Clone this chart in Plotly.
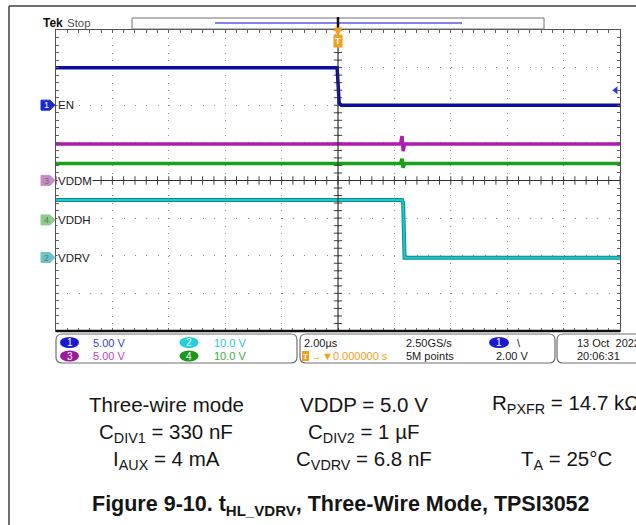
import numpy as np
import plotly.graph_objects as go

# ---------------- data ----------------
# time in microseconds (2.00 us/div, trigger at 0), values in volts
t_en = [-10.0, -0.03, 0.04, 0.12, 10.0]
v_en = [5.0, 5.0, 0.3, 0.0, 0.0]

t_vddm = [-10.0, 2.22, 2.27, 2.31, 2.36, 10.0]
v_vddm = [4.85, 4.85, 5.9, 3.9, 4.85, 4.85]

t_vddh = [-10.0, 2.22, 2.27, 2.31, 2.36, 10.0]
v_vddh = [15.0, 15.0, 16.3, 13.9, 15.0, 15.0]

t_vdrv = [-10.0, 2.27, 2.31, 2.36, 10.0]
v_vdrv = [15.3, 15.3, 14.6, 0.0, 0.0]

ch_names = ["EN", "VDRV", "VDDM", "VDDH"]
ch_nums = ["1", "2", "3", "4"]
ch_volts_per_div = [5.0, 10.0, 5.0, 10.0]
ch_ground_div = [2.0, -2.05, 0.0, -1.05]
ch_colors = ["#0c0ca0", "#1ec8c8", "#b01cb0", "#18a018"]
ch_marker_fill = ["#1a2ad0", "#6cc4c8", "#c48cc8", "#8ccc8c"]
ch_scale_labels = ["5.00 V", "10.0 V", "5.00 V", "10.0 V"]
ch_scale_colors = ["#3c3cdc", "#22c8d8", "#c040c8", "#38b038"]
ch_badge_colors = ["#1a1ad0", "#22d0d8", "#9a1a9a", "#1a9a1a"]

trigger_level_v = 2.00
time_per_div = "2.00µs"
sample_rate = "2.50GS/s"
record_len = "5M points"
trig_pos = "0.000000 s"
date_txt = "13 Oct  2022"
time_txt = "20:06:31"

caption_rows = [
    ["Three-wire mode", "VDDP = 5.0 V", "R<sub>PXFR</sub> = 14.7 kΩ"],
    ["C<sub>DIV1</sub> = 330 nF", "C<sub>DIV2</sub> = 1 µF", ""],
    ["I<sub>AUX</sub> = 4 mA", "C<sub>VDRV</sub> = 6.8 nF", "T<sub>A</sub> = 25°C"],
]
fig_caption = "Figure 9-10. t<sub>HL_VDRV</sub>, Three-Wire Mode, TPSI3052"

# ---------------- layout geometry ----------------
W, H = 636, 525
L, R, T, B = 56, 620, 30, 331
PW, PH = R - L, B - T


def X(px):
    return (px - L) / PW


def Y(py):
    return (B - py) / PH


def to_div(vals, ch):
    return [ch_ground_div[ch] + v / ch_volts_per_div[ch] for v in vals]


fig = go.Figure()

# graticule centre-cross ticks
gx = np.arange(-10, 10.001, 0.4)
gy = np.arange(-4, 4.001, 0.2)
fig.add_trace(go.Scatter(x=gx, y=np.zeros_like(gx), mode="markers",
                         marker=dict(symbol="line-ns", size=6,
                                     line=dict(width=1, color="#404040")),
                         hoverinfo="skip"))
fig.add_trace(go.Scatter(x=np.zeros_like(gy), y=gy, mode="markers",
                         marker=dict(symbol="line-ew", size=6,
                                     line=dict(width=1, color="#404040")),
                         hoverinfo="skip"))

# channel traces
fig.add_trace(go.Scatter(x=t_vddm, y=to_div(v_vddm, 2), mode="lines",
                         line=dict(color=ch_colors[2], width=3.5)))
fig.add_trace(go.Scatter(x=t_vddh, y=to_div(v_vddh, 3), mode="lines",
                         line=dict(color=ch_colors[3], width=3.5)))
fig.add_trace(go.Scatter(x=t_vdrv, y=to_div(v_vdrv, 1), mode="lines",
                         line=dict(color="#0a8c90", width=4)))
fig.add_trace(go.Scatter(x=t_vdrv, y=to_div(v_vdrv, 1), mode="lines",
                         line=dict(color=ch_colors[1], width=2)))
fig.add_trace(go.Scatter(x=t_en, y=to_div(v_en, 0), mode="lines",
                         line=dict(color=ch_colors[0], width=3.5)))

# trigger level arrow (ch1)
fig.add_trace(go.Scatter(x=[9.85], y=[ch_ground_div[0] + trigger_level_v / ch_volts_per_div[0]],
                         mode="markers",
                         marker=dict(symbol="triangle-left", size=7, color="#2a3ae0"),
                         hoverinfo="skip"))

shapes = []
annotations = []


def note(x, y, text, size, color, family="Liberation Sans", xanchor="center",
         xref="paper", yref="paper", **kw):
    annotations.append(dict(x=x, y=y, xref=xref, yref=yref, text=text, showarrow=False,
                            xanchor=xanchor, yanchor="middle",
                            font=dict(size=size, color=color, family=family), **kw))


# centre cross lines
shapes.append(dict(type="line", xref="x", yref="y", x0=0, x1=0, y0=-4, y1=4,
                   line=dict(color="#303030", width=1.2)))
shapes.append(dict(type="line", xref="x", yref="y", x0=-10, x1=10, y0=0, y1=0,
                   line=dict(color="#303030", width=1.2)))
# thick bottom border
shapes.append(dict(type="line", xref="paper", yref="paper", x0=0, x1=1, y0=0, y1=0,
                   line=dict(color="#101010", width=2.5)))

# outer frame of the figure
shapes.append(dict(type="line", xref="paper", yref="paper", x0=X(9), x1=X(9), y0=Y(6), y1=Y(530),
                   line=dict(color="#404040", width=1.5)))
shapes.append(dict(type="line", xref="paper", yref="paper", x0=X(9), x1=X(640), y0=Y(6), y1=Y(6),
                   line=dict(color="#404040", width=1.5)))

# record bar at top
shapes.append(dict(type="rect", xref="paper", yref="paper", x0=X(132), x1=X(544), y0=Y(29), y1=Y(18),
                   line=dict(color="#707070", width=1), fillcolor="white"))
shapes.append(dict(type="line", xref="paper", yref="paper", x0=X(215), x1=X(462), y0=Y(23), y1=Y(23),
                   line=dict(color="#5a5af0", width=1.5)))
shapes.append(dict(type="line", xref="paper", yref="paper", x0=X(338), x1=X(338), y0=Y(30), y1=Y(17),
                   line=dict(color="#101010", width=2.5)))
# trigger position marker
shapes.append(dict(type="path", xref="paper", yref="paper",
                   path=f"M {X(334)},{Y(28)} L {X(342)},{Y(28)} L {X(338)},{Y(35)} Z",
                   fillcolor="#f0a020", line=dict(color="#f0a020", width=1)))
note(X(338), Y(41), "<b>T</b>", 9, "white", bgcolor="#f0a020", borderpad=1)

# Tek Stop
note(X(41), Y(23), "<b>Tek</b>", 12, "#101010", xanchor="left")
note(X(65), Y(23), "Stop", 11.5, "#505050", xanchor="left")

# channel ground markers and labels
for i in range(4):
    g = ch_ground_div[i]
    py = 180.4 - g * PH / 8
    shapes.append(dict(type="path", xref="paper", yref="paper",
                       path=(f"M {X(41)},{Y(py-5)} L {X(50)},{Y(py-5)} L {X(55)},{Y(py)} "
                             f"L {X(50)},{Y(py+5)} L {X(41)},{Y(py+5)} Z"),
                       fillcolor=ch_marker_fill[i], line=dict(color=ch_marker_fill[i], width=1)))
    note(X(46), g, ch_nums[i], 9, "white" if i == 0 else "#707070", yref="y")
    note(X(57), g, ch_names[i], 11.5, "#202020", xanchor="left", yref="y",
         bgcolor="white", borderpad=0)


def rounded(x0, y0, x1, y1, r=6):
    return (f"M {X(x0+r)},{Y(y0)} L {X(x1-r)},{Y(y0)} Q {X(x1)},{Y(y0)} {X(x1)},{Y(y0+r)} "
            f"L {X(x1)},{Y(y1-r)} Q {X(x1)},{Y(y1)} {X(x1-r)},{Y(y1)} "
            f"L {X(x0+r)},{Y(y1)} Q {X(x0)},{Y(y1)} {X(x0)},{Y(y1-r)} "
            f"L {X(x0)},{Y(y0+r)} Q {X(x0)},{Y(y0)} {X(x0+r)},{Y(y0)} Z")


for (x0, x1) in [(56, 297), (300, 555), (557, 645)]:
    shapes.append(dict(type="path", xref="paper", yref="paper", path=rounded(x0, 334, x1, 363),
                       line=dict(color="#707070", width=1.2)))

row_y = [342.5, 356]
badge_pos = [(69.5, row_y[0]), (189, row_y[0]), (69.5, row_y[1]), (189, row_y[1])]
scale_x = [91, 212, 91, 212]
INFO = 11
for i in range(4):
    cx, cy = badge_pos[i]
    shapes.append(dict(type="circle", xref="paper", yref="paper",
                       x0=X(cx - 9.5), x1=X(cx + 9.5), y0=Y(cy + 5.5), y1=Y(cy - 5.5),
                       fillcolor=ch_badge_colors[i], line=dict(width=0)))
    note(X(cx), Y(cy), ch_nums[i], 10, "white")
    note(X(scale_x[i]), Y(cy), ch_scale_labels[i], INFO, ch_scale_colors[i], xanchor="left")

# timebase box
note(X(302), Y(row_y[0]), time_per_div, INFO, "#202020", xanchor="left")
shapes.append(dict(type="rect", xref="paper", yref="paper", x0=X(302), x1=X(309),
                   y0=Y(361), y1=Y(351), fillcolor="#f0a020", line=dict(width=0)))
note(X(305.5), Y(356), "<b>T</b>", 8, "white")
note(X(309), Y(row_y[1]), "→▼" + trig_pos, INFO, "#f0a020", xanchor="left")
note(X(404), Y(row_y[0]), sample_rate, INFO, "#202020", xanchor="left")
note(X(404), Y(row_y[1]), record_len, INFO, "#202020", xanchor="left")
shapes.append(dict(type="circle", xref="paper", yref="paper",
                   x0=X(489), x1=X(509), y0=Y(348), y1=Y(337),
                   fillcolor="#1a1ad0", line=dict(width=0)))
note(X(499), Y(342.5), "1", 10, "white")
note(X(515), Y(row_y[0]), "\\", INFO, "#202020", xanchor="left")
note(X(494), Y(row_y[1]), f"{trigger_level_v:.2f} V", INFO, "#202020", xanchor="left")
note(X(575), Y(row_y[0]), date_txt, INFO, "#202020", xanchor="left")
note(X(575), Y(row_y[1]), time_txt, INFO, "#202020", xanchor="left")

# caption table
col_x = [166, 364, 566]
cap_y = [404, 433, 460]
for r, row in enumerate(caption_rows):
    for c, txt in enumerate(row):
        if not txt:
            continue
        note(X(col_x[c]), Y(cap_y[r]), txt, 20.5, "#151515")
note(X(341), Y(505), "<b>" + fig_caption + "</b>", 21.5, "#151515")

fig.update_layout(
    width=W, height=H,
    margin=dict(l=L, r=W - R, t=T, b=H - B, pad=0),
    paper_bgcolor="white", plot_bgcolor="white",
    showlegend=False, hovermode=False,
    shapes=shapes, annotations=annotations,
    xaxis=dict(range=[-10, 10], dtick=2, tick0=0, showticklabels=False, zeroline=False,
               showgrid=True, gridcolor="#8a8a8a", gridwidth=1, griddash="1px,6.52px",
               ticks="inside", ticklen=3, tickcolor="#606060", showline=True,
               linecolor="#505050", linewidth=1, mirror="allticks",
               minor=dict(dtick=0.4, tick0=0, ticks="inside", ticklen=3, tickcolor="#606060",
                          showgrid=False)),
    yaxis=dict(range=[-4, 4], dtick=1, tick0=0, showticklabels=False, zeroline=False,
               showgrid=True, gridcolor="#8a8a8a", gridwidth=1, griddash="1px,10.28px",
               ticks="inside", ticklen=3, tickcolor="#606060", showline=True,
               linecolor="#505050", linewidth=1, mirror="allticks",
               minor=dict(dtick=0.2, tick0=0, ticks="inside", ticklen=3, tickcolor="#606060",
                          showgrid=False)),
)

fig.write_html("out.html", config={"displayModeBar": False},
               post_script="document.body.style.margin='0';")
